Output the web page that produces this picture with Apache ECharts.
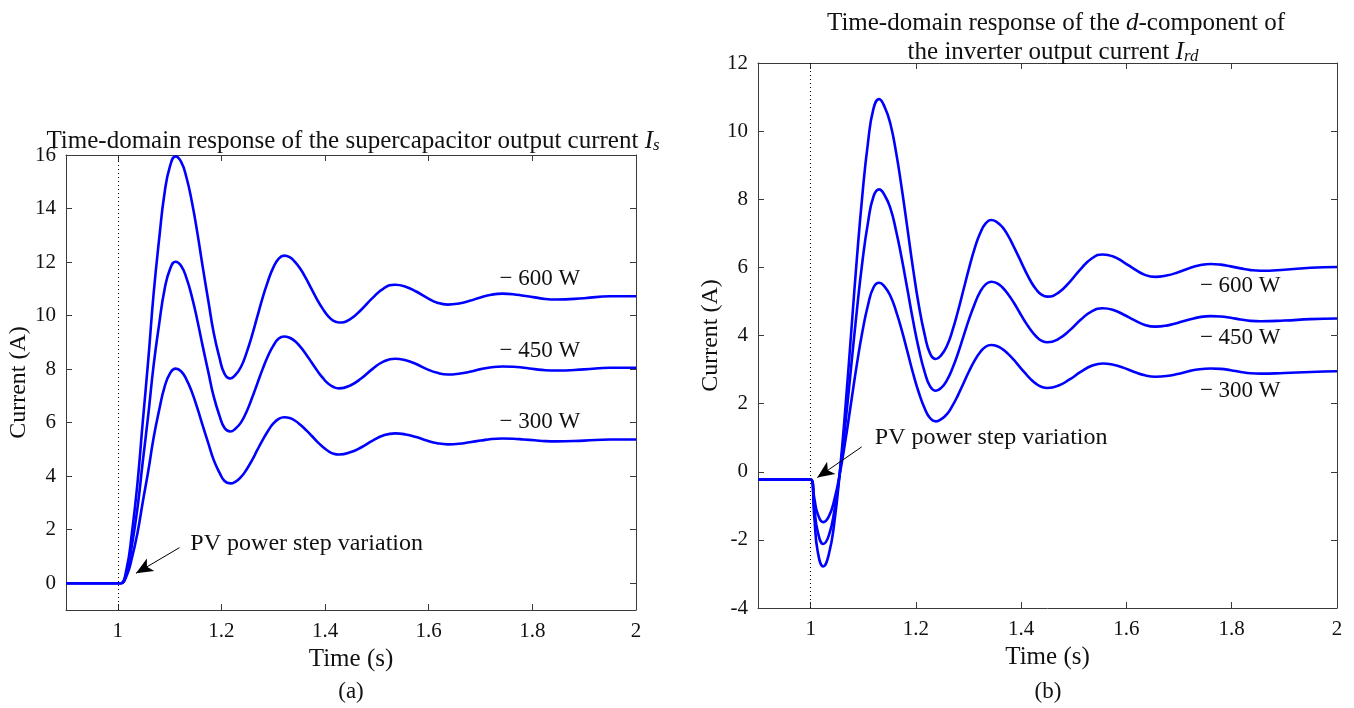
<!DOCTYPE html>
<html>
<head>
<meta charset="utf-8">
<script src="https://cdn.jsdelivr.net/npm/echarts@6/dist/echarts.min.js"></script>
<style>
html,body{margin:0;padding:0;background:#fff;}
#main{width:1354px;height:708px;}
</style>
</head>
<body>
<div id="main"></div>
<script>
// ---------- Data (a): supercapacitor output current ----------
const timeA = [0.9, 1.0, 1.006, 1.017, 1.027, 1.038, 1.048, 1.059, 1.069, 1.08, 1.09, 1.101, 1.1115,
  1.122, 1.1325, 1.143, 1.1535, 1.164, 1.175, 1.185, 1.196, 1.206, 1.217,
  1.2274, 1.2378, 1.2482, 1.2586, 1.269, 1.2794, 1.2898, 1.3002, 1.3106, 1.321,
  1.3316, 1.3422, 1.3528, 1.3634, 1.374, 1.3846, 1.3952, 1.4058, 1.4164, 1.427,
  1.4486, 1.4702, 1.4918, 1.5134, 1.535,
  1.5554, 1.5758, 1.5962, 1.6166, 1.637,
  1.658, 1.679, 1.7, 1.721, 1.742,
  1.7628, 1.7836, 1.8044, 1.8252, 1.846,
  1.9, 1.95, 2.0];
const a600 = [0, 0, 0, 0.55, 1.85, 3.75, 6.0, 8.4, 10.8, 12.9, 14.55, 15.6, 15.95,
  15.75, 15.16, 14.24, 13.09, 11.8, 10.51, 9.36, 8.44, 7.82, 7.65,
  7.79, 8.09, 8.60, 9.23, 9.95, 10.66, 11.29, 11.80, 12.13, 12.24,
  12.18, 12.0, 11.73, 11.38, 10.99, 10.6, 10.26, 9.98, 9.80, 9.74,
  9.87, 10.23, 10.66, 11.02, 11.15,
  11.08, 10.90, 10.67, 10.48, 10.41,
  10.45, 10.55, 10.68, 10.78, 10.82,
  10.8, 10.74, 10.68, 10.62, 10.6,
  10.65, 10.72, 10.72];
const a450 = [0, 0, 0, 0.41, 1.39, 2.82, 4.52, 6.33, 8.13, 9.71, 10.96, 11.75, 12.01,
  11.86, 11.4, 10.7, 9.82, 8.84, 7.86, 6.98, 6.27, 5.80, 5.67,
  5.78, 6.01, 6.40, 6.90, 7.45, 8.0, 8.49, 8.88, 9.14, 9.22,
  9.17, 9.04, 8.82, 8.55, 8.25, 7.95, 7.68, 7.46, 7.33, 7.28,
  7.39, 7.66, 8.01, 8.29, 8.39,
  8.33, 8.19, 8.0, 7.86, 7.8,
  7.83, 7.9, 8.0, 8.07, 8.1,
  8.09, 8.05, 8.0, 7.96, 7.95,
  7.99, 8.05, 8.05];
const a300 = [0, 0, 0, 0.28, 0.93, 1.89, 3.02, 4.22, 5.43, 6.49, 7.32, 7.85, 8.02,
  7.92, 7.61, 7.14, 6.54, 5.88, 5.21, 4.61, 4.14, 3.82, 3.73,
  3.80, 3.97, 4.24, 4.58, 4.97, 5.35, 5.69, 5.97, 6.14, 6.2,
  6.17, 6.07, 5.91, 5.72, 5.51, 5.29, 5.1, 4.94, 4.84, 4.81,
  4.89, 5.08, 5.33, 5.53, 5.6,
  5.56, 5.46, 5.33, 5.23, 5.19,
  5.21, 5.27, 5.33, 5.39, 5.41,
  5.4, 5.37, 5.34, 5.31, 5.3,
  5.33, 5.37, 5.37];

// ---------- Data (b): d-component of inverter output current ----------
const timeB = [0.9, 1.0, 1.007, 1.0135, 1.024,
  1.0346, 1.0452, 1.0558, 1.0664, 1.077, 1.0876, 1.0982, 1.1088, 1.1194, 1.13,
  1.1408, 1.1516, 1.1624, 1.1732, 1.184, 1.1948, 1.2056, 1.2164, 1.2272, 1.238,
  1.2485, 1.259, 1.2695, 1.28, 1.2905, 1.301, 1.3115, 1.322, 1.3325, 1.343,
  1.3537, 1.3644, 1.3751, 1.3858, 1.3965, 1.4072, 1.4179, 1.4286, 1.4393, 1.45,
  1.471, 1.492, 1.513, 1.534, 1.555,
  1.575, 1.595, 1.615, 1.635, 1.655,
  1.676, 1.697, 1.718, 1.739, 1.76,
  1.779, 1.798, 1.817, 1.836, 1.855,
  1.9, 1.95, 2.0];
const b600 = [-0.23, -0.23, -1.35, -2.35, -2.78,
  -2.42, -1.47, 0.05, 1.95, 4.08, 6.21, 8.11, 9.64, 10.66, 10.94,
  10.70, 10.21, 9.37, 8.31, 7.13, 5.94, 4.88, 4.04, 3.46, 3.31,
  3.43, 3.70, 4.15, 4.72, 5.35, 5.98, 6.55, 7.0, 7.29, 7.39,
  7.33, 7.18, 6.93, 6.61, 6.27, 5.92, 5.6, 5.35, 5.19, 5.14,
  5.26, 5.57, 5.95, 6.26, 6.38,
  6.32, 6.15, 5.95, 5.78, 5.72,
  5.76, 5.85, 5.97, 6.06, 6.10,
  6.08, 6.03, 5.97, 5.92, 5.90,
  5.93, 5.99, 6.01];
const b450 = [-0.23, -0.23, -1.06, -1.76, -2.12,
  -1.87, -1.13, 0.02, 1.47, 3.09, 4.70, 6.15, 7.30, 8.08, 8.29,
  8.11, 7.73, 7.07, 6.25, 5.34, 4.42, 3.60, 2.94, 2.50, 2.38,
  2.47, 2.69, 3.04, 3.48, 3.98, 4.48, 4.92, 5.28, 5.50, 5.58,
  5.54, 5.41, 5.21, 4.97, 4.69, 4.41, 4.17, 3.97, 3.84, 3.80,
  3.90, 4.15, 4.46, 4.71, 4.80,
  4.75, 4.61, 4.45, 4.31, 4.26,
  4.29, 4.37, 4.46, 4.54, 4.57,
  4.56, 4.52, 4.47, 4.43, 4.42,
  4.44, 4.48, 4.50];
const b300 = [-0.23, -0.23, -0.78, -1.24, -1.48,
  -1.31, -0.81, -0.03, 0.95, 2.04, 3.13, 4.10, 4.88, 5.41, 5.55,
  5.43, 5.16, 4.71, 4.15, 3.52, 2.88, 2.32, 1.87, 1.57, 1.48,
  1.55, 1.69, 1.94, 2.25, 2.60, 2.95, 3.26, 3.51, 3.67, 3.72,
  3.69, 3.60, 3.46, 3.29, 3.09, 2.90, 2.72, 2.58, 2.49, 2.46,
  2.53, 2.71, 2.93, 3.11, 3.18,
  3.14, 3.05, 2.93, 2.83, 2.79,
  2.81, 2.87, 2.95, 3.01, 3.03,
  3.02, 2.98, 2.93, 2.89, 2.88,
  2.90, 2.93, 2.95];

// ---------- Ticks & labels ----------
const xTicks = [1, 1.2, 1.4, 1.6, 1.8, 2];
const yTicksA = [0, 2, 4, 6, 8, 10, 12, 14, 16];
const yTicksB = [-4, -2, 0, 2, 4, 6, 8, 10, 12];
const seriesNames = ['600 W', '450 W', '300 W'];
const seriesLabels = ['\u2212 600 W', '\u2212 450 W', '\u2212 300 W'];
const annotText = 'PV power step variation';

// ---------- Styles ----------
const FONT = "'Liberation Serif', 'DejaVu Serif', serif";
const AX = '#3a3a3a';
const TXT = '#111';
const BLUE = '#0000ff';
const pair = (t, v) => t.map((x, i) => [x, v[i]]);

function xAxes(gi) {
  const base = {
    type: 'value', gridIndex: gi, min: 0.9, max: 2,
    axisLine: {show: true, onZero: false, lineStyle: {color: AX, width: 1}},
    axisTick: {show: true, inside: true, length: 6, customValues: xTicks, lineStyle: {color: AX}},
    splitLine: {show: false}
  };
  return [
    Object.assign({}, base, {
      position: 'bottom',
      axisLabel: {show: true, customValues: xTicks, margin: 11, color: TXT, fontFamily: FONT, fontSize: 21,
        formatter: v => String(Math.round(v * 10) / 10)},
      name: 'Time (s)', nameLocation: 'middle', nameGap: 35,
      nameTextStyle: {fontFamily: FONT, fontSize: 25, color: TXT}
    }),
    Object.assign({}, base, {position: 'top', axisLabel: {show: false}})
  ];
}
function yAxes(gi, min, max, ticks, gap) {
  const base = {
    type: 'value', gridIndex: gi, min: min, max: max,
    axisLine: {show: true, onZero: false, lineStyle: {color: AX, width: 1}},
    axisTick: {show: true, inside: true, length: 6, customValues: ticks, lineStyle: {color: AX}},
    splitLine: {show: false}
  };
  return [
    Object.assign({}, base, {
      position: 'left',
      axisLabel: {show: true, customValues: ticks, margin: 10, color: TXT, fontFamily: FONT, fontSize: 21},
      name: 'Current (A)', nameLocation: 'middle', nameGap: gap,
      nameTextStyle: {fontFamily: FONT, fontSize: 24, color: TXT}
    }),
    Object.assign({}, base, {position: 'right', axisLabel: {show: false}})
  ];
}

function lineSeries(name, data, xi, yi, extra) {
  return Object.assign({
    name: name, type: 'line', data: data, xAxisIndex: xi, yAxisIndex: yi,
    showSymbol: false, smooth: 0.5,
    lineStyle: {color: BLUE, width: 2.6}, itemStyle: {color: BLUE},
    silent: true, z: 3
  }, extra || {});
}

const dottedMark = {
  silent: true, symbol: ['none', 'none'], label: {show: false},
  lineStyle: {color: '#000', type: [1, 3], width: 1},
  data: [{xAxis: 1}]
};
function arrowMark(from, to) {
  return {
    silent: true, symbol: ['none', 'arrow'], symbolSize: [11, 17], label: {show: false},
    lineStyle: {color: '#000', type: 'solid', width: 1}, itemStyle: {color: '#000'},
    data: [[{coord: from}, {coord: to}]]
  };
}

const richMain = {fontFamily: FONT, fontSize: 25, fontWeight: 'normal', color: TXT};
const richIt = {fontFamily: FONT, fontSize: 25, fontWeight: 'normal', fontStyle: 'italic', color: TXT};
const richSub = {fontFamily: FONT, fontSize: 17, fontWeight: 'normal', fontStyle: 'italic', color: TXT,
  verticalAlign: 'bottom', padding: [9, 0, 0, 0]};

const option = {
  animation: false,
  backgroundColor: '#fff',
  grid: [
    {left: 66, right: 718, top: 155, bottom: 98, containLabel: false},
    {left: 758, right: 17, top: 63, bottom: 100, containLabel: false}
  ],
  title: [
    {text: '{n|Time-domain response of the supercapacitor output current }{i|I}{s|s}',
      left: 348, top: 123, textAlign: 'center',
      textStyle: {fontWeight: 'normal', rich: {n: richMain, i: richIt, s: richSub}}},
    {text: '{n|Time-domain response of the }{i|d}{n|-component of}',
      left: 1051, top: 6, textAlign: 'center',
      textStyle: {fontWeight: 'normal', rich: {n: richMain, i: richIt}}},
    {text: '{n|the inverter output current }{i|I}{s|rd}',
      left: 1048, top: 34, textAlign: 'center',
      textStyle: {fontWeight: 'normal', rich: {n: richMain, i: richIt, s: richSub}}}
  ],
  xAxis: xAxes(0).concat(xAxes(1)),
  yAxis: yAxes(0, -1, 16, yTicksA, 34).concat(yAxes(1, -4, 12, yTicksB, 33)),
  series: [
    lineSeries(seriesNames[0], pair(timeA, a600), 0, 0, {markLine: dottedMark}),
    lineSeries(seriesNames[1], pair(timeA, a450), 0, 0),
    lineSeries(seriesNames[2], pair(timeA, a300), 0, 0, {markLine: arrowMark([1.119, 1.33], [1.035, 0.37])}),
    lineSeries(seriesNames[0], pair(timeB, b600), 2, 2, {markLine: dottedMark}),
    lineSeries(seriesNames[1], pair(timeB, b450), 2, 2),
    lineSeries(seriesNames[2], pair(timeB, b300), 2, 2, {markLine: arrowMark([1.097, 0.73], [1.0126, -0.17])})
  ]
};

const chart = echarts.init(document.getElementById('main'));
chart.setOption(option);

// annotation anchors in data coordinates
const labelAnchorsA = [[1.7365, 11.38], [1.7365, 8.69], [1.7365, 6.04]];
const labelAnchorsB = [[1.7395, 5.45], [1.7395, 3.93], [1.7395, 2.38]];
const annotAnchorA = [1.140, 1.49];
const annotAnchorB = [1.122, 1.0];

const txt = (p, s, size) => ({
  type: 'text', x: p[0], y: p[1],
  style: {text: s, font: size + "px 'Liberation Serif', serif", fill: TXT, textAlign: 'left', textVerticalAlign: 'middle'}
});
const g = [];
labelAnchorsA.forEach((a, i) => g.push(txt(chart.convertToPixel({gridIndex: 0}, a), seriesLabels[i], 23)));
labelAnchorsB.forEach((a, i) => g.push(txt(chart.convertToPixel({gridIndex: 1}, a), seriesLabels[i], 23)));
g.push(txt(chart.convertToPixel({gridIndex: 0}, annotAnchorA), annotText, 24));
g.push(txt(chart.convertToPixel({gridIndex: 1}, annotAnchorB), annotText, 24));
g.push({type: 'text', x: 351, y: 692, style: {text: '(a)', font: "23px 'Liberation Serif', serif", fill: TXT, textAlign: 'center', textVerticalAlign: 'middle'}});
g.push({type: 'text', x: 1048, y: 692, style: {text: '(b)', font: "23px 'Liberation Serif', serif", fill: TXT, textAlign: 'center', textVerticalAlign: 'middle'}});
chart.setOption({graphic: g});
</script>
</body>
</html>
